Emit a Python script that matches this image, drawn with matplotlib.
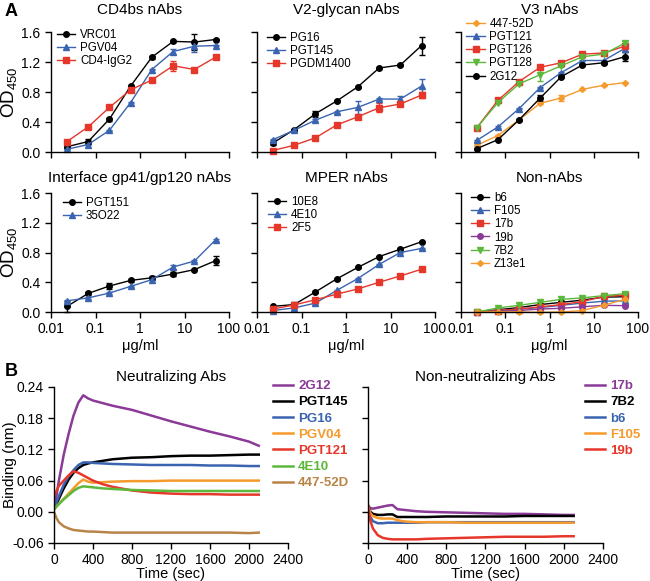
#!/usr/bin/env python3
import matplotlib
matplotlib.use('Agg')
from matplotlib import pyplot as plt

plt.rcParams['font.family'] = ['Liberation Sans', 'DejaVu Sans']
plt.rcParams['mathtext.fontset'] = 'custom'
plt.rcParams['mathtext.rm'] = 'Liberation Sans'

# ---- panel A : ELISA titration (OD450 vs ug/ml) ----
conc = [0.0229, 0.0686, 0.206, 0.617, 1.85, 5.56, 16.7, 50]

cd4bs_names = ['VRC01', 'PGV04', 'CD4-IgG2']
cd4bs_vals = [[0.07, 0.14, 0.44, 0.88, 1.265, 1.475, 1.466, 1.50],
              [0.036, 0.10, 0.29, 0.66, 1.10, 1.34, 1.41, 1.42],
              [0.14, 0.335, 0.595, 0.83, 0.96, 1.15, 1.10, 1.265]]
cd4bs_err = [[0.02, 0.03, 0.02, 0.02, 0.02, 0.01, 0.11, 0.01],
             [0.01, 0.01, 0.01, 0.01, 0.01, 0.03, 0.07, 0.01],
             [0.01, 0.01, 0.01, 0.01, 0.01, 0.07, 0.01, 0.01]]

v2_names = ['PG16', 'PGT145', 'PGDM1400']
v2_vals = [[0.12, 0.30, 0.51, 0.68, 0.87, 1.12, 1.16, 1.42],
           [0.165, 0.29, 0.425, 0.536, 0.595, 0.706, 0.706, 0.88],
           [0.02, 0.09, 0.19, 0.36, 0.47, 0.59, 0.64, 0.76]]
v2_err = [[0.02, 0.01, 0.04, 0.01, 0.01, 0.01, 0.01, 0.12],
          [0.01, 0.01, 0.01, 0.01, 0.09, 0.01, 0.04, 0.10],
          [0.01, 0.01, 0.01, 0.01, 0.01, 0.06, 0.01, 0.04]]

v3_names = ['447-52D', 'PGT121', 'PGT126', 'PGT128', '2G12']
v3_vals = [[0.09, 0.22, 0.43, 0.65, 0.72, 0.835, 0.89, 0.925],
           [0.155, 0.335, 0.58, 0.86, 1.06, 1.22, 1.22, 1.38],
           [0.326, 0.69, 0.94, 1.13, 1.19, 1.305, 1.32, 1.41],
           [0.326, 0.66, 0.91, 1.03, 1.15, 1.27, 1.305, 1.45],
           [0.045, 0.165, 0.43, 0.72, 1.005, 1.16, 1.19, 1.27]]
v3_err = [[0.01, 0.01, 0.01, 0.01, 0.04, 0.01, 0.01, 0.01],
          [0.01, 0.01, 0.01, 0.01, 0.01, 0.01, 0.01, 0.05],
          [0.01, 0.01, 0.01, 0.01, 0.01, 0.01, 0.01, 0.03],
          [0.01, 0.01, 0.01, 0.08, 0.01, 0.01, 0.01, 0.03],
          [0.01, 0.01, 0.01, 0.04, 0.01, 0.01, 0.01, 0.06]]

intf_names = ['PGT151', '35O22']
intf_vals = [[0.076, 0.25, 0.35, 0.425, 0.46, 0.51, 0.57, 0.69],
             [0.15, 0.19, 0.255, 0.345, 0.435, 0.605, 0.685, 0.97]]
intf_err = [[0.07, 0.02, 0.04, 0.02, 0.03, 0.03, 0.01, 0.06],
            [0.01, 0.01, 0.01, 0.01, 0.01, 0.03, 0.01, 0.01]]

mper_names = ['10E8', '4E10', '2F5']
mper_vals = [[0.076, 0.10, 0.27, 0.445, 0.60, 0.745, 0.845, 0.945],
             [0.02, 0.055, 0.12, 0.29, 0.45, 0.64, 0.80, 0.855],
             [0.04, 0.095, 0.165, 0.24, 0.31, 0.40, 0.485, 0.575]]
mper_err = [[0.01, 0.04, 0.01, 0.01, 0.01, 0.01, 0.01, 0.01],
            [0.01, 0.01, 0.01, 0.01, 0.01, 0.01, 0.01, 0.01],
            [0.01, 0.01, 0.01, 0.01, 0.01, 0.01, 0.01, 0.01]]

non_names = ['b6', 'F105', '17b', '19b', '7B2', 'Z13e1']
non_vals = [[0.0, 0.03, 0.06, 0.10, 0.13, 0.16, 0.20, 0.205],
            [0.0, 0.02, 0.04, 0.06, 0.09, 0.12, 0.145, 0.15],
            [0.0, 0.02, 0.04, 0.07, 0.10, 0.14, 0.21, 0.225],
            [0.0, 0.01, 0.02, 0.04, 0.05, 0.07, 0.09, 0.085],
            [0.0, 0.055, 0.09, 0.13, 0.17, 0.19, 0.22, 0.245],
            [0.0, 0.005, 0.0, -0.005, 0.0, 0.02, 0.09, 0.17]]
non_err = [[0.01] * 8 for _ in non_names]

x_ticks = [0.01, 0.1, 1, 10, 100]
x_ticklabels = ['0.01', '0.1', '1', '10', '100']
y_ticks = [0.0, 0.4, 0.8, 1.2, 1.6]

# ---- panel B : binding kinetics ----
t_sec = [0, 25, 50, 100, 150, 200, 250, 300, 350, 400, 500, 600, 800,
         1000, 1200, 1400, 1600, 1800, 2000, 2100]

neut_names = ['2G12', 'PGT145', 'PG16', 'PGV04', 'PGT121', '4E10', '447-52D']
neut_vals = [
    [0.005, 0.03, 0.06, 0.11, 0.15, 0.185, 0.21, 0.224, 0.218, 0.214, 0.209,
     0.204, 0.196, 0.185, 0.174, 0.164, 0.154, 0.145, 0.135, 0.127],
    [0.005, 0.015, 0.025, 0.045, 0.062, 0.075, 0.084, 0.09, 0.093, 0.095,
     0.098, 0.101, 0.104, 0.105, 0.107, 0.108, 0.108, 0.109, 0.11, 0.11],
    [0.005, 0.018, 0.03, 0.052, 0.068, 0.08, 0.09, 0.095, 0.095, 0.094,
     0.093, 0.092, 0.091, 0.09, 0.09, 0.09, 0.089, 0.089, 0.088, 0.088],
    [0.005, 0.01, 0.015, 0.025, 0.035, 0.045, 0.055, 0.062, 0.058, 0.056,
     0.057, 0.058, 0.059, 0.059, 0.06, 0.06, 0.06, 0.06, 0.06, 0.06],
    [0.03, 0.04, 0.05, 0.06, 0.07, 0.078, 0.075, 0.07, 0.065, 0.06, 0.053,
     0.048, 0.041, 0.037, 0.035, 0.034, 0.034, 0.033, 0.033, 0.033],
    [0.005, 0.01, 0.015, 0.024, 0.032, 0.04, 0.046, 0.049, 0.048, 0.047,
     0.045, 0.044, 0.042, 0.041, 0.04, 0.04, 0.04, 0.04, 0.04, 0.04],
    [0.0, -0.012, -0.02, -0.028, -0.032, -0.035, -0.036, -0.037, -0.038,
     -0.038, -0.039, -0.04, -0.04, -0.04, -0.04, -0.04, -0.04, -0.04,
     -0.041, -0.04]]

nonneut_names = ['17b', '7B2', 'b6', 'F105', '19b']
nonneut_vals = [
    [0.012, 0.007, 0.006, 0.008, 0.010, 0.012, 0.013, 0.005, 0.004, 0.003,
     0.001, 0.0, -0.001, -0.002, -0.003, -0.004, -0.004, -0.005, -0.006,
     -0.006],
    [0.012, 0.0, -0.004, -0.006, -0.006, -0.005, -0.005, -0.010, -0.010,
     -0.010, -0.010, -0.010, -0.009, -0.009, -0.009, -0.009, -0.008, -0.008,
     -0.008, -0.008],
    [0.012, -0.01, -0.018, -0.022, -0.022, -0.021, -0.021, -0.021, -0.021,
     -0.021, -0.021, -0.020, -0.020, -0.020, -0.020, -0.020, -0.020, -0.020,
     -0.020, -0.020],
    [0.012, -0.003, -0.008, -0.012, -0.013, -0.013, -0.013, -0.016, -0.018,
     -0.019, -0.020, -0.020, -0.020, -0.021, -0.021, -0.021, -0.021, -0.021,
     -0.021, -0.021],
    [0.012, -0.018, -0.032, -0.045, -0.050, -0.052, -0.053, -0.053, -0.053,
     -0.053, -0.053, -0.052, -0.051, -0.050, -0.049, -0.048, -0.048, -0.048,
     -0.047, -0.047]]

BLACK = 'black'
BLUE = '#3a64b0'
RED = '#e6372b'
ORANGE = '#f59a2c'
GREEN = '#5cb83a'
PURPLE = '#8b3a98'
BROWN = '#b98448'

W, H = 650, 581
fig = plt.figure(figsize=(W / 100, H / 100), dpi=100)


def px_axes(x0, y0, x1, y1):
    return fig.add_axes([x0 / W, 1 - y1 / H, (x1 - x0) / W, (y1 - y0) / H])


def style(ax):
    for s in ['top', 'right']:
        ax.spines[s].set_visible(False)
    for s in ['left', 'bottom']:
        ax.spines[s].set_linewidth(1.0)
    ax.tick_params(direction='out', length=4, width=1.0, labelsize=10)


panels = [
    ((51, 32, 229, 152), 'CD4bs nAbs', cd4bs_names, cd4bs_vals, cd4bs_err,
     [BLACK, BLUE, RED], ['o', '^', 's'], (0.034, 1.025), True, False),
    ((257, 32, 435, 152), 'V2-glycan nAbs', v2_names, v2_vals, v2_err,
     [BLACK, BLUE, RED], ['o', '^', 's'], (0.056, 1.0), False, False),
    ((461, 32, 638, 152), 'V3 nAbs', v3_names, v3_vals, v3_err,
     [ORANGE, BLUE, RED, GREEN, BLACK], ['D', '^', 's', 'v', 'o'],
     (0.03, 1.117), False, False),
    ((51, 193, 229, 312), 'Interface gp41/gp120 nAbs', intf_names, intf_vals,
     intf_err, [BLACK, BLUE], ['o', '^'], (0.067, 0.966), True, True),
    ((257, 193, 435, 312), 'MPER nAbs', mper_names, mper_vals, mper_err,
     [BLACK, BLUE, RED], ['o', '^', 's'], (0.062, 0.975), False, True),
    ((461, 193, 638, 312), 'Non-nAbs', non_names, non_vals, non_err,
     [BLACK, BLUE, RED, PURPLE, GREEN, ORANGE], ['o', '^', 's', 'o', 'v', 'D'],
     (0.055, 1.008), False, True),
]

for box, title, names, vals, errs, cols, marks, leg_xy, ylab, xlab in panels:
    ax = px_axes(*box)
    style(ax)
    handles = []
    for name, v, e, c, m in zip(names, vals, errs, cols, marks):
        ms = 3 if m == 'D' else 4
        eb = ax.errorbar(conc, v, yerr=e, color=c, marker=m, markersize=ms,
                         linewidth=1.0, elinewidth=1.0, capsize=2.5,
                         clip_on=False)
        handles.append(eb[0])
    ax.set_xscale('log')
    ax.set_xlim(0.01, 100)
    ax.set_ylim(0, 1.6)
    ax.set_xticks(x_ticks)
    ax.xaxis.set_minor_locator(matplotlib.ticker.NullLocator())
    ax.set_yticks(y_ticks)
    if xlab:
        ax.set_xticklabels(x_ticklabels)
        ax.set_xlabel('\u03bcg/ml', fontsize=10.5, labelpad=2)
    else:
        ax.set_xticklabels([])
    if ylab:
        ax.set_yticklabels(['%.1f' % y for y in y_ticks])
        ax.set_ylabel('OD$_{\\mathrm{450}}$', fontsize=13.5, labelpad=1)
    else:
        ax.set_yticklabels([])
    ax.set_title(title, fontsize=11, pad=13 if box[1] < 100 else 8)
    ax.legend(handles, names, loc='upper left', bbox_to_anchor=leg_xy,
              frameon=False, fontsize=8.3, handlelength=1.6,
              handletextpad=0.4, labelspacing=0.1, borderpad=0,
              borderaxespad=0)

# ---- panel B ----
b_panels = [
    ((54, 387, 288, 543), 'Neutralizing Abs', neut_names, neut_vals,
     [PURPLE, BLACK, BLUE, ORANGE, RED, GREEN, BROWN], 0.936, True),
    ((368, 387, 603, 543), 'Non-neutralizing Abs', nonneut_names, nonneut_vals,
     [PURPLE, BLACK, BLUE, ORANGE, RED], 0.923, False),
]
b_yticks = [-0.06, 0.0, 0.06, 0.12, 0.18, 0.24]
for box, title, names, vals, cols, leg_x, ylab in b_panels:
    ax = px_axes(*box)
    style(ax)
    for name, v, c in zip(names, vals, cols):
        ax.plot(t_sec, v, color=c, linewidth=1.8, label=name)
    ax.set_xlim(0, 2400)
    ax.set_ylim(-0.06, 0.24)
    ax.set_xticks([0, 400, 800, 1200, 1600, 2000, 2400])
    ax.set_yticks(b_yticks)
    if ylab:
        ax.set_yticklabels(['%.2f' % y for y in b_yticks])
        ax.set_ylabel('Binding (nm)', fontsize=11)
        ax.yaxis.set_label_coords(-0.16, 0.5)
    else:
        ax.set_yticklabels([])
    ax.set_xlabel('Time (sec)', fontsize=10.5, labelpad=0)
    ax.set_title(title, fontsize=11, pad=4)
    ax.legend(loc='upper left', bbox_to_anchor=(leg_x, 1.045), frameon=False,
              prop={'size': 9.5, 'weight': 'bold'}, labelcolor='linecolor',
              handlelength=1.5, handletextpad=0.4, labelspacing=0.3,
              borderpad=0, borderaxespad=0)

fig.text(5 / W, 1 - 12 / H, 'A', fontsize=13, fontweight='bold', va='center')
fig.text(5 / W, 1 - 372 / H, 'B', fontsize=13, fontweight='bold', va='center')

fig.savefig('out.png', dpi=100)
